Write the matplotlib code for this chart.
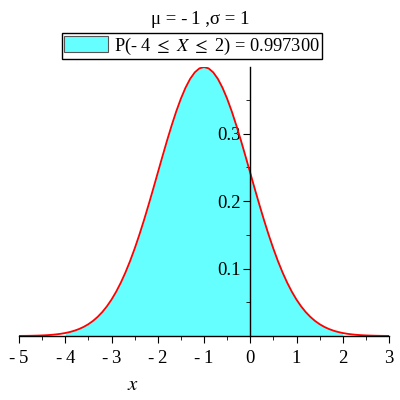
import numpy as np
import matplotlib
matplotlib.use("Agg")
import matplotlib.pyplot as plt
from matplotlib.patches import Patch

x = np.round(np.arange(-5.0, 3.05, 0.1), 1)
density = [0.000134, 0.000199, 0.000292, 0.000425, 0.000612, 0.000873,
           0.001232, 0.001723, 0.002384, 0.003267, 0.004432, 0.005953,
           0.007915, 0.010421, 0.013583, 0.017528, 0.022395, 0.028327,
           0.035475, 0.043984, 0.053991, 0.065616, 0.078950, 0.094049,
           0.110921, 0.129518, 0.149727, 0.171369, 0.194186, 0.217852,
           0.241971, 0.266085, 0.289692, 0.312254, 0.333225, 0.352065,
           0.368270, 0.381388, 0.391043, 0.396953, 0.398942,
           0.396953, 0.391043, 0.381388, 0.368270, 0.352065, 0.333225,
           0.312254, 0.289692, 0.266085, 0.241971, 0.217852, 0.194186,
           0.171369, 0.149727, 0.129518, 0.110921, 0.094049, 0.078950,
           0.065616, 0.053991, 0.043984, 0.035475, 0.028327, 0.022395,
           0.017528, 0.013583, 0.010421, 0.007915, 0.005953, 0.004432,
           0.003267, 0.002384, 0.001723, 0.001232, 0.000873, 0.000612,
           0.000425, 0.000292, 0.000199, 0.000134]
lo, hi = -4, 2
prob_label = "P(-\u20094 $\\leq$ $X$ $\\leq$ 2) = 0.997300"
title = "\u03bc = -\u20091 ,\u03c3 = 1"
xticks = [-5, -4, -3, -2, -1, 0, 1, 2, 3]
yticks = [0.1, 0.2, 0.3]

plt.rcParams.update({"font.family": ["Liberation Serif", "DejaVu Serif"],
                     "mathtext.fontset": "stix"})
CYAN, RED = "#66ffff", "#ff0000"

fig = plt.figure(figsize=(4, 4), dpi=100)
ax = fig.add_axes([19 / 400, 1 - 336 / 400, 370 / 400, 269 / 400])

xs = np.array(x); ys = np.array(density)
sel = (xs >= lo - 1e-9) & (xs <= hi + 1e-9)
ax.fill_between(xs[sel], 0, ys[sel], color=CYAN, lw=0)
ax.plot(xs, ys, color=RED, lw=1.3)

ax.set_xlim(-5, 3); ax.set_ylim(0, 0.399)
ax.spines["left"].set_position(("data", 0))
ax.spines["bottom"].set_position(("data", 0))
for s in ("top", "right"):
    ax.spines[s].set_visible(False)
ax.spines["left"].set_linewidth(1.0); ax.spines["bottom"].set_linewidth(1.0)

ax.set_xticks(xticks)
ax.set_xticklabels([str(t).replace("-", "-\u2009") for t in xticks])
ax.set_xticks(np.arange(-4.5, 3, 1.0), minor=True)
ax.set_yticks(yticks)
ax.set_yticklabels([f"{t:.1f}" for t in yticks])
ax.set_yticks([0.05, 0.15, 0.25, 0.35], minor=True)
ax.tick_params(axis="x", which="major", direction="out", length=5, labelsize=13.5, pad=5)
ax.tick_params(axis="x", which="minor", direction="out", length=3)
ax.tick_params(axis="y", which="major", direction="out", length=5, labelsize=13.5, pad=2)
ax.tick_params(axis="y", which="minor", direction="out", length=3)

fig.text(133 / 400, 1 - 385 / 400, "$x$", fontsize=15, ha="center", va="center")
fig.text(200 / 400, 1 - 20 / 400, title, fontsize=13.5, ha="center", va="center")
fig.legend(handles=[Patch(facecolor=CYAN, edgecolor="#555555", lw=0.8)],
           labels=[prob_label], loc="center", bbox_to_anchor=(192 / 400, 1 - 46 / 400),
           fontsize=13.2, fancybox=False, edgecolor="black", framealpha=1,
           handlelength=2.4, handleheight=1.0, borderpad=0.15, handletextpad=0.3,
           borderaxespad=0).get_frame().set_linewidth(1.0)

fig.savefig("out.png", dpi=100)
